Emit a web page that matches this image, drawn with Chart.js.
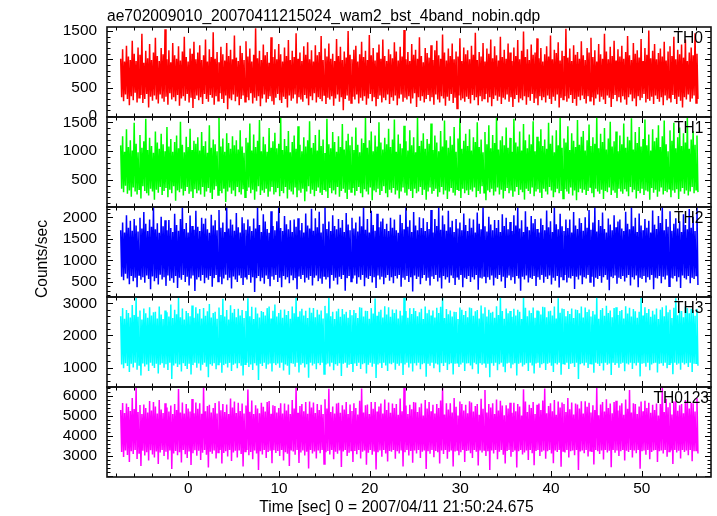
<!DOCTYPE html>
<html>
<head>
<meta charset="utf-8">
<script src="https://cdn.jsdelivr.net/npm/chart.js@4.4.0/dist/chart.umd.min.js"></script>
<style>
  html, body { margin: 0; padding: 0; background: #fff; }
  #wrap { position: relative; width: 717px; height: 516px; overflow: hidden;
          font-family: "Liberation Sans", Arial, Helvetica, sans-serif; }
  canvas { position: absolute; left: 0; top: 0; }
  .t { position: absolute; white-space: nowrap; font-size: 15.6px; line-height: 15px; color: #000; }
</style>
</head>
<body>
<div id="wrap">
  <canvas id="c0" width="717" height="516"></canvas>
  <canvas id="c1" width="717" height="516"></canvas>
  <canvas id="c2" width="717" height="516"></canvas>
  <canvas id="c3" width="717" height="516"></canvas>
  <canvas id="c4" width="717" height="516"></canvas>
  <div class="t" style="left:107px; top:8px;">ae702009010_20070411215024_wam2_bst_4band_nobin.qdp</div>
  <div class="t" style="left:396.5px; top:499px; transform: translateX(-50%);">Time [sec] 0 = 2007/04/11 21:50:24.675</div>
  <div id="labels"></div>
</div>
<script>
// ---------------- data ----------------
const tStart = -7.45;   // first time bin [sec]
const tEnd = 56.2;      // last time bin [sec]

const th0 = [
 1010,330,1180,260,960,380,1240,300,1050,190,990,350,1330,280,1100,410,970,240,1210,320,1080,370,1450,230,940,300,1150,390,1020,150,1270,340,990,270,1120,360,1380,290,1060,220,
 970,380,1200,310,1090,250,1530,340,1000,200,1160,400,950,290,1290,330,1070,260,1010,370,1230,180,980,310,1140,350,1400,270,1040,390,960,240,1190,320,1100,140,1310,300,1000,360,
 1120,280,1250,330,990,210,1070,390,1350,300,960,250,1180,370,1040,320,1480,200,1010,350,1130,270,950,400,1220,300,1090,230,980,360,1290,120,1060,310,1170,280,1000,380,1420,260,
 1030,340,970,190,1240,300,1110,360,990,250,1320,330,1050,280,1190,400,960,220,1080,320,1550,270,1020,350,1150,170,990,310,1260,380,1070,240,1130,300,940,350,1390,260,1040,200,
 1180,320,1000,390,1270,280,1090,230,960,340,1210,300,1060,150,1340,360,990,270,1150,310,1040,380,1460,220,1010,330,1120,290,970,250,1230,370,1080,310,1300,190,1000,350,1160,280,
 960,400,1250,240,1070,330,1130,300,1410,260,990,370,1190,210,1050,320,1280,290,1010,350,1100,180,970,310,1360,380,1060,250,1220,330,990,100,1140,300,1030,360,1500,270,1080,230,
 1000,340,1170,290,1240,380,960,220,1090,320,1310,270,1040,350,1150,200,990,310,1430,390,1070,260,1200,330,980,170,1120,300,1260,360,1010,240,1350,320,1060,280,970,380,1180,210,
 1090,330,1020,270,1300,360,1140,190,980,310,1220,380,1050,250,1520,320,1000,290,1130,350,970,220,1270,310,1080,400,1170,160,1010,330,1390,270,1060,350,950,240,1200,300,1110,370,
 1030,260,1250,330,990,200,1160,380,1330,290,1070,240,1010,350,1440,310,1120,180,980,340,1190,270,1060,390,1280,230,1000,320,1140,130,1050,360,1370,280,970,310,1210,250,1090,340,
 1160,300,1000,220,1240,370,1080,280,1470,330,990,190,1130,350,1050,260,1290,310,960,390,1190,240,1100,330,1350,170,1020,300,1230,360,1070,270,980,340,1400,210,1040,320,1170,290,
 1010,380,1280,250,1120,330,970,160,1210,300,1060,370,1340,240,1000,310,1150,280,1490,350,1040,200,1180,330,990,270,1260,390,1080,230,1120,310,1370,190,1020,350,1200,280,960,330,
 1090,240,1230,360,1050,300,1420,210,1000,340,1170,270,1110,380,1300,150,980,320,1150,290,1060,350,1540,250,1030,310,1190,370,970,230,1250,300,1080,180,1130,340,1010,280,1320,360,
 1070,300,990,220,1200,350,1120,270,1380,330,1040,190,1160,310,960,380,1270,250,1090,340,1010,290,1450,210,1140,360,1000,320,1220,160,1060,300,1330,370,980,260,1180,330,1050,240,
 1240,350,1010,290,1130,200,1410,330,1070,380,990,260,1290,310,1100,170,1160,350,1030,280,1360,320,970,390,1200,240,1080,300,1510,270,1020,340,1150,210,1270,360,1000,300,1110,250,
 1190,330,1050,190,1310,360,980,280,1140,320,1230,240,1060,370,1400,300,1000,210,1170,340,1090,270,1260,150,1030,330,1350,290,970,380,1120,250,1210,310,1070,360,1460,230,1100,300
];

const th1 = [
 1100,350,1260,290,990,400,1380,260,1070,320,1190,210,1010,370,1490,300,1130,250,980,340,1280,180,1060,390,1170,310,1560,270,1020,230,1230,350,1090,300,970,160,1340,330,1150,280,
 1040,380,1300,240,1120,310,1000,360,1420,200,1080,330,1210,270,990,390,1160,140,1270,320,1050,290,1510,350,1110,230,980,310,1250,380,1070,260,1390,300,1020,190,1180,340,1130,270,
 1240,320,1010,250,1330,380,1090,210,1170,300,970,360,1450,280,1060,170,1200,330,1120,390,1000,240,1580,310,1080,270,1220,350,990,120,1310,300,1140,370,1040,260,1260,320,1100,220,
 1190,380,1030,290,1360,250,1080,340,970,200,1230,310,1150,370,1480,270,1010,330,1290,160,1070,300,1180,390,1540,240,1000,320,1250,280,1120,350,990,210,1400,300,1060,380,1170,250,
 1320,290,1050,360,1130,220,1590,310,1020,270,1210,380,1090,180,1350,330,980,300,1160,250,1270,370,1040,200,1430,320,1110,280,1000,350,1240,130,1080,300,1190,390,1520,260,1060,330,
 1140,220,1280,310,1010,370,1370,280,1090,240,1200,340,970,300,1560,190,1120,360,1050,270,1330,320,1160,250,990,380,1260,210,1070,310,1470,350,1030,280,1180,170,1300,330,1100,290,
 1250,360,1020,230,1410,310,1110,380,980,270,1220,200,1140,340,1580,300,1060,250,1190,370,1340,150,1000,320,1270,290,1080,350,1500,240,1150,310,1030,390,1230,270,1120,200,1390,330,
 1070,280,1200,360,1550,250,990,320,1290,180,1130,300,1050,370,1440,280,1170,230,1010,340,1360,310,1100,190,1240,350,980,270,1590,300,1090,380,1180,240,1310,330,1040,160,1210,300,
 1130,370,1480,260,1020,310,1270,350,1150,210,1000,290,1350,380,1080,250,1530,320,1190,170,1060,300,1260,360,1110,280,1420,230,990,340,1220,310,1570,190,1040,350,1180,270,1300,320,
 1090,240,1380,330,1010,300,1240,370,1160,200,1500,310,1070,260,1200,390,980,280,1330,150,1120,320,1450,290,1050,350,1280,230,1140,300,1590,370,1030,250,1190,330,1260,180,1100,310,
 1410,360,1060,270,1230,320,990,210,1560,300,1150,380,1080,240,1340,330,1010,290,1470,160,1190,350,1050,310,1290,260,1120,370,1520,220,1000,300,1250,340,1170,280,1380,190,1090,350,
 1200,300,1040,250,1490,380,1130,320,1270,200,980,290,1360,350,1100,270,1580,310,1060,180,1220,340,1150,300,1430,260,1020,370,1310,230,1180,320,1070,150,1540,290,1110,350,1250,280,
 1350,330,1010,240,1190,310,1460,380,1090,270,1240,200,1130,350,1590,300,1050,260,1300,330,1160,170,1400,310,1030,290,1220,370,1510,240,1080,320,1170,280,1340,190,1000,350,1270,300,
 1120,260,1480,340,1060,300,1250,220,1190,380,1570,290,1030,330,1330,180,1140,310,1420,270,1080,350,1210,240,1550,320,1100,300,1290,160,1010,360,1380,280,1170,330,1230,210,1450,300,
 1070,370,1260,250,1530,310,1120,290,1000,350,1360,200,1180,320,1490,280,1050,340,1240,170,1410,300,1090,360,1310,260,1150,320,1580,230,1040,300,1200,380,1350,270,1110,330,1270,290
];

const th2 = [
 1700,620,1880,540,1650,690,2050,580,1760,450,1920,640,1690,520,1960,600,1810,380,1670,660,1990,550,1740,610,2120,480,1850,650,1680,570,1950,330,1780,630,2240,520,1720,590,1860,440,
 1640,670,2010,560,1790,610,1930,410,1700,650,1940,530,1750,590,1660,480,2080,640,1820,360,1690,600,1960,550,2230,660,1730,500,1870,620,1650,420,2040,580,1800,650,1710,290,2150,560,
 1780,610,1680,530,1990,660,1850,470,1970,600,1720,550,1640,640,2060,390,1810,590,1930,660,1700,510,2170,620,1760,450,1880,580,1660,670,2240,540,1740,600,1950,350,1830,630,1690,560,
 2100,500,1770,650,1650,590,2000,430,1860,620,1710,560,1950,660,1790,480,1680,610,1970,270,1740,590,2230,640,1820,520,1660,600,2070,460,1900,650,1730,570,1640,400,2140,630,1800,550,
 1700,660,1910,500,2240,600,1750,380,1680,640,2030,560,1840,610,1720,470,1930,650,1660,540,1950,590,1780,330,1980,630,1700,570,1870,660,1650,490,2090,600,1810,550,1740,640,2200,420,
 1690,600,1980,650,1770,520,2130,580,1650,460,1850,640,2240,560,1730,610,1900,350,1680,660,2050,530,1800,600,1720,440,1960,620,1760,570,1940,660,1660,300,2100,590,1830,640,1700,510,
 1990,580,1740,650,1880,460,1670,610,2020,550,1790,660,2240,400,1710,600,1960,570,1650,640,2150,490,1820,610,1690,360,2080,650,1770,560,1900,620,1970,450,1730,600,1850,660,1680,530,
 1990,610,1760,470,1950,640,1700,580,1640,660,2060,390,1870,600,1720,550,2240,640,1780,500,1930,610,1660,280,2120,650,1810,570,1700,620,2000,450,1750,590,1980,660,1680,530,1890,600,
 1730,420,2170,630,1650,570,1960,660,1800,510,2240,600,1710,350,2040,640,1840,560,1690,610,2150,480,1770,650,1920,590,1660,430,1960,620,1740,550,1880,660,1700,380,2090,600,1820,570,
 1680,640,1970,500,1760,610,1950,560,1650,660,2110,320,1850,600,1720,580,2240,640,1790,470,1670,610,2010,550,1830,650,1700,420,1940,600,1750,570,1940,660,1660,510,2070,620,1800,360,
 1990,600,1720,650,1890,540,1680,610,2050,460,1810,640,2240,580,1740,300,1930,620,1660,560,2140,650,1780,490,1700,600,2030,570,1860,640,1960,410,1730,610,1650,550,1970,660,1820,480,
 1700,620,2160,570,1770,650,1910,440,1660,600,2240,530,1840,640,1720,370,2080,610,1790,560,1680,660,1950,490,1750,600,1950,580,1650,640,2120,340,1810,620,1730,560,1980,650,1870,450,
 1690,610,2000,580,1760,660,2170,500,1710,620,1880,390,2240,600,1670,570,1940,640,1800,480,2110,610,1730,660,1650,550,1970,310,1830,620,1700,590,2050,650,1770,460,1900,600,1950,570,
 1740,640,1680,510,2130,600,1850,660,1720,420,2240,610,1790,560,1990,650,1660,380,2090,600,1810,570,1700,640,1960,490,1760,610,1920,550,1650,660,2160,330,1830,600,1730,580,2030,640,
 1870,470,2240,620,1700,560,1960,650,1780,400,2140,600,1690,580,1850,640,1980,510,1740,610,1910,360,1660,650,2070,590,1820,560,1720,640,2190,470,1760,600,2010,570,1680,650,2220,430
];

const th3 = [
 2600,1100,2850,980,2520,1140,2790,1050,2700,870,2560,1120,2950,1010,2640,1150,3190,940,2580,1080,2780,760,2500,1130,2840,1040,2690,1100,2550,900,2880,1150,2620,1060,2720,990,2740,1120,2530,820,
 2900,1090,2650,1140,2510,1000,2780,1110,2720,930,2590,1150,2960,650,2540,1070,2800,1130,2660,1020,3170,1100,2570,880,2840,1140,2500,1050,2760,960,2700,1120,2600,790,2930,1080,2550,1150,2880,1000,
 2680,1130,2820,910,2530,1090,2850,1150,2610,1030,2750,700,2980,1110,2560,1060,2700,1140,2740,950,2520,1100,2870,1150,2640,840,3140,1080,2590,1120,2790,1010,2500,1150,2940,900,2710,1090,2820,1130,
 2570,980,2830,1140,2620,1060,2790,760,2540,1110,2760,1150,3160,1020,2600,1100,2890,930,2510,1140,2870,1070,2680,620,2560,1120,2760,1050,2730,1150,2620,970,2850,1100,2900,1130,2530,880,2770,1140,
 2960,1080,2590,1130,2700,1000,2800,1150,2550,910,2810,1100,2640,1060,2760,780,2520,1140,2900,1120,2690,1030,3190,1150,2580,850,2750,1090,2830,1140,2620,1010,2770,1110,2540,690,2860,1150,2710,1070,
 2850,1120,2570,950,2800,1140,2650,1080,2780,1150,2530,800,2920,1100,2690,1130,3180,1040,2600,1150,2740,920,2510,1110,2750,1060,2830,1140,2580,740,2820,1120,2660,1150,2740,1000,2550,1090,2790,1140,
 2630,870,2790,1130,2700,1050,2540,1150,2880,960,2860,1110,2590,1140,2770,820,2760,1090,2520,1150,2850,1030,2680,1120,3150,680,2610,1100,2740,1140,2800,990,2560,1150,2910,1070,2650,900,2880,1130,
 2580,1110,2810,1150,2700,940,2810,1120,2530,1060,2770,1140,2620,770,3190,1100,2760,1150,2550,1010,2850,1130,2670,880,2850,1140,2760,1070,2600,1150,2720,950,2830,1110,2510,1140,2900,720,2690,1120,
 2800,1060,2620,1150,2780,980,2560,1130,2860,1100,2700,860,2890,1140,3190,1050,2540,1150,2820,930,2660,1110,2780,1140,2590,790,2740,1120,2730,1150,2510,1020,2870,1100,2800,1150,2640,900,2760,1130,
 2570,1140,2870,1070,2850,950,2610,1150,2750,1110,2790,810,2530,1140,2930,1090,2680,1150,2880,1000,2590,1120,2800,700,2710,1140,2740,1060,2550,1150,2910,920,2640,1110,3190,1150,2760,1030,2520,860,
 2840,1130,2690,1150,2760,980,2580,1100,2830,1140,2620,760,2800,1120,2740,1150,2510,1040,3170,1090,2860,1140,2600,900,2780,1150,2700,1070,2870,820,2550,1130,2780,1150,2750,1000,2650,1110,2890,1140,
 2880,930,2570,1120,2750,1150,2770,1060,2620,870,2900,1140,2530,1100,3160,1150,2710,780,2840,1130,2820,1090,2600,1150,2760,960,2670,1120,2840,1140,2540,1020,2810,1150,2790,650,2690,1110,2900,1140,
 2560,1070,2870,1150,2730,990,2810,1130,2590,1100,2760,840,2650,1150,3190,1120,2520,1050,2790,1140,2850,910,2610,1150,2920,1090,2700,1130,2780,770,2570,1150,2850,1080,2880,1140,2640,1000,2760,1120,
 2790,1150,2530,890,2910,1130,2680,1100,2860,1150,2590,960,2820,1140,2750,1070,2550,1150,2740,730,3180,1120,2620,1140,2880,1030,2700,1150,2820,920,2580,1100,2770,1140,2650,1150,2840,850,2510,1120,
 2800,1140,2880,1060,2600,1150,2930,980,2720,1110,2800,1140,2540,800,2860,1150,3160,1090,2630,1130,2770,940,2760,1150,2570,1100,2900,1140,2850,1020,2690,1150,2830,870,2790,1120,2610,1140,2830,1060
];

const th0123 = [
 5300,3200,5650,2950,5150,3280,5620,3050,5450,2700,5250,3240,5900,3100,5350,3300,6400,2850,5200,3150,5550,2500,5100,3260,5580,3020,5400,3190,5180,2780,5750,3290,5280,3080,5700,2920,5480,3230,5120,2600,
 5800,3170,5330,3300,5150,3000,5640,3210,5420,2820,5230,3280,5520,2350,5100,3120,5600,3250,5300,3040,6350,3190,5170,2680,5680,3300,5120,3090,5600,2900,5380,3220,5220,2550,5850,3140,5140,3290,5680,3010,
 5360,3260,5640,2800,5110,3160,6420,3300,5240,3060,5500,2420,5560,3210,5180,3110,5400,3280,5650,2880,5130,3180,5740,3300,5290,2620,5600,3150,5200,3240,5580,2980,5100,3300,5880,2750,5420,3170,5720,3260,
 5150,2930,5660,3280,5250,3100,5620,2480,5120,3220,5520,3300,6330,3040,5210,3200,5780,2840,5100,3270,5540,3130,5370,2300,5140,3240,5660,3070,5460,3300,5230,2900,5700,3200,5750,3260,5110,2640,5540,3290,
 5500,3150,5180,3250,5400,3000,5640,3300,5130,2780,5620,3190,5280,3110,5580,2500,5100,3280,5800,3220,5380,3060,6420,3300,5160,2650,5500,3170,5600,3280,5240,3020,5700,3210,5110,2380,5720,3300,5420,3120,
 5680,3230,5150,2870,5600,3280,5300,3140,5560,3300,5100,2600,5840,3190,5380,3250,6360,3070,5200,3300,5480,2840,5120,3210,5620,3110,5660,3280,5160,2450,5540,3230,5320,3300,5700,3000,5100,3160,5580,3280,
 5250,2700,5640,3250,5400,3090,5080,3300,5760,2880,6380,3210,5180,3280,5540,2560,5580,3160,5100,3300,5700,3060,5360,3230,5700,2330,5220,3190,5480,3280,5620,2960,5120,3300,5820,3130,5300,2720,5680,3250,
 5160,3210,5620,3300,5400,2860,5600,3240,5060,3120,5880,3280,5240,2480,6400,3190,5520,3300,5100,3020,5560,3250,5340,2660,5700,3280,5680,3130,5200,3300,5440,2900,5620,3210,5020,3280,5800,2350,5380,3240,
 5700,3110,5240,3300,5560,2940,5120,3250,5600,3190,5400,2620,5780,3280,6400,3100,5080,3300,5640,2860,5320,3210,5640,3280,5180,2480,5900,3230,5460,3300,5020,3040,5720,3190,5600,3300,5280,2700,5560,3250,
 5140,3280,5740,3140,5680,2900,5220,3300,5500,3210,5600,2520,5060,3280,5860,3170,5360,3300,6300,3000,5180,3240,5600,2300,5420,3280,5640,3120,5100,3300,5820,2840,5280,3210,5760,3300,5520,3060,5040,2620,
 5540,3250,5380,3300,5660,2960,5160,3200,5660,3280,5240,2420,5600,3240,5480,3300,5020,3080,6340,3170,5720,3280,5200,2800,5560,3300,5400,3140,5700,2540,5100,3250,5560,3300,5620,3000,5300,3210,5780,3280,
 6380,2860,5140,3240,5500,3300,5640,3120,5240,2640,5800,3280,5060,3200,5720,3300,5420,2460,5680,3250,5600,3180,5200,3300,5900,2920,5340,3240,5680,3280,5080,3040,5620,3300,5580,2300,5380,3220,5740,3280,
 5120,3140,5740,3300,5460,2980,5660,3260,5180,3200,5540,2580,5300,3300,6400,3240,5040,3100,5580,3280,5700,2820,5220,3300,5840,3180,5400,3260,5620,2440,5140,3300,5700,3160,5760,3280,5280,3000,5520,3240,
 5640,3300,5060,2780,5820,3260,5360,3200,6300,3300,5180,2920,5640,3280,5600,3140,5100,3300,5480,2360,5720,3240,5240,3280,5760,3060,5400,3300,5660,2840,5160,3200,5560,3280,5300,3300,5620,2700,5020,3240,
 5600,3280,6400,3120,5200,3300,5860,2960,5440,3220,5660,3280,5080,2600,5720,3300,5740,3180,5260,3260,5540,2880,5600,3300,5140,3200,5800,3280,5700,3040,5380,3300,5660,2740,5640,3240,5220,3280,5900,3120
];

const seriesNames = ['TH0', 'TH1', 'TH2', 'TH3', 'TH0123'];
const seriesValues = [th0, th1, th2, th3, th0123];
const yTickLabels = [
  [0, 500, 1000, 1500],
  [500, 1000, 1500],
  [500, 1000, 1500, 2000],
  [1000, 2000, 3000],
  [3000, 4000, 5000, 6000]
];
const xTickLabels = [0, 10, 20, 30, 40, 50];
const yTitle = 'Counts/sec';

// ---------------- layout / style (not data) ----------------
const colors = ['#ff0000', '#00ff00', '#0000ff', '#00ffff', '#ff00ff'];
const yRanges = [[-18, 1571], [32, 1592], [152, 2239], [400, 3196], [1950, 6450]];
const yMinorStep = [100, 100, 100, 200, 200];
const panelTops = [27, 117, 207, 297, 387];
const panelH = 90;
const plotLeft = 107, plotRight = 711, W = 717, H = 516;
const xRange = [-8.96, 57.64];
const xMinorStep = 2, xMajorStep = 10;
const labelLeft = [673.5, 674, 674, 674, 653.5];
const FONT = '"Liberation Sans", Arial, Helvetica, sans-serif';

Chart.defaults.font.family = FONT;
Chart.defaults.font.size = 15.4;
Chart.defaults.color = '#000';

const n = th0.length;
const times = [];
for (let i = 0; i < n; i++) times.push(tStart + (tEnd - tStart) * i / (n - 1));

const framePlugin = {
  id: 'qdpFrame',
  afterDraw(chart, args, opts) {
    const { ctx, chartArea: a } = chart;
    const xs = chart.scales.x, ys = chart.scales.y;
    ctx.save();
    ctx.strokeStyle = '#000';
    ctx.lineWidth = 1;
    ctx.beginPath();
    const x0 = Math.ceil(xs.min / xMinorStep) * xMinorStep;
    for (let v = x0; v <= xs.max; v += xMinorStep) {
      const px = Math.round(xs.getPixelForValue(v)) + 0.5;
      const major = Math.abs(v % xMajorStep) < 1e-9;
      const len = major ? 6 : 3.5;
      ctx.moveTo(px, a.top); ctx.lineTo(px, a.top + len);
      ctx.moveTo(px, a.bottom); ctx.lineTo(px, a.bottom - len);
    }
    const step = opts.minor;
    const majors = opts.majors;
    const y0 = Math.ceil(ys.min / step) * step;
    for (let v = y0; v <= ys.max; v += step) {
      const py = Math.round(ys.getPixelForValue(v)) + 0.5;
      const major = majors.includes(Math.round(v)) || Math.round(v) % (step * 5) === 0;
      const len = major ? 6 : 3.5;
      ctx.moveTo(a.left, py); ctx.lineTo(a.left + len, py);
      ctx.moveTo(a.right, py); ctx.lineTo(a.right - len, py);
    }
    ctx.stroke();
    ctx.lineWidth = 1.6;
    ctx.strokeStyle = '#111';
    ctx.strokeRect(a.left, a.top, a.right - a.left, a.bottom - a.top);
    if (opts.yTitle) {
      ctx.translate(47, 259);
      ctx.rotate(-Math.PI / 2);
      ctx.font = '15.6px ' + FONT;
      ctx.fillStyle = '#000';
      ctx.textAlign = 'center';
      ctx.textBaseline = 'alphabetic';
      ctx.fillText(opts.yTitle, 0, 0);
    }
    ctx.restore();
  }
};

const labelsDiv = document.getElementById('labels');

for (let k = 0; k < 5; k++) {
  const isBottom = k === 4;
  const top = panelTops[k];
  const bottom = top + panelH;
  const vals = seriesValues[k];
  const pts = vals.map((v, i) => ({ x: times[i], y: v }));

  new Chart(document.getElementById('c' + k), {
    type: 'line',
    data: {
      datasets: [{
        label: seriesNames[k],
        data: pts,
        borderColor: colors[k],
        backgroundColor: colors[k],
        borderWidth: 1.5,
        pointRadius: 0,
        tension: 0,
        fill: false
      }]
    },
    options: {
      responsive: false,
      devicePixelRatio: 1,
      animation: false,
      events: [],
      parsing: false,
      layout: { padding: { left: 0, right: W - plotRight, top: top, bottom: 0 } },
      plugins: {
        legend: { display: false },
        tooltip: { enabled: false },
        title: { display: false },
        qdpFrame: { minor: yMinorStep[k], majors: yTickLabels[k], yTitle: k === 2 ? yTitle : null }
      },
      scales: {
        x: {
          type: 'linear',
          min: xRange[0], max: xRange[1],
          bounds: 'data',
          grid: { display: false, drawTicks: false },
          border: { display: false },
          ticks: { display: isBottom, autoSkip: false, maxRotation: 0, padding: 3, callback: v => String(v) },
          afterBuildTicks: s => { s.ticks = xTickLabels.map(v => ({ value: v })); },
          afterFit: s => { s.height = H - bottom; }
        },
        y: {
          type: 'linear',
          min: yRanges[k][0], max: yRanges[k][1],
          bounds: 'data',
          grid: { display: false, drawTicks: false },
          border: { display: false },
          ticks: { autoSkip: false, padding: 10, callback: v => String(v) },
          afterBuildTicks: s => { s.ticks = yTickLabels[k].map(v => ({ value: v })); },
          afterFit: s => { s.width = plotLeft; }
        }
      }
    },
    plugins: [framePlugin]
  });

  const d = document.createElement('div');
  d.className = 't';
  d.style.left = labelLeft[k] + 'px';
  d.style.top = (top + 3.3) + 'px';
  d.textContent = seriesNames[k];
  labelsDiv.appendChild(d);
}
</script>
</body>
</html>
